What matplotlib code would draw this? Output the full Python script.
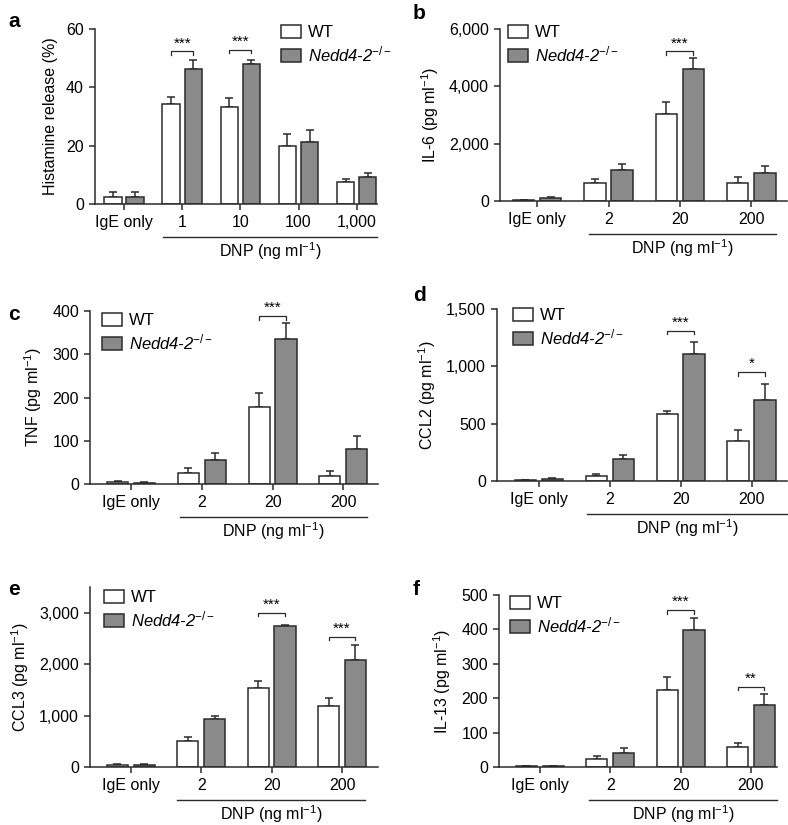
import matplotlib
matplotlib.use("Agg")
import matplotlib.pyplot as plt
from matplotlib.ticker import StrMethodFormatter
from matplotlib.transforms import offset_copy

plt.rcParams['font.family'] = ['Liberation Sans', 'DejaVu Sans']
plt.rcParams['mathtext.fontset'] = 'custom'
plt.rcParams['mathtext.rm'] = 'Liberation Sans'
plt.rcParams['mathtext.it'] = 'Liberation Sans:italic'

# ---- data ----
a_cats = ['IgE only', '1', '10', '100', '1,000']
a_wt = [2.3, 34.2, 33.1, 19.9, 7.7]
a_wt_err = [1.9, 2.6, 3.1, 4.1, 1.0]
a_ko = [2.4, 46.2, 48.0, 21.3, 9.4]
a_ko_err = [1.8, 3.3, 1.5, 4.1, 1.1]

dose_cats = ['IgE only', '2', '20', '200']

b_wt = [35, 628, 3035, 628]
b_wt_err = [15, 150, 410, 210]
b_ko = [93, 1093, 4593, 977]
b_ko_err = [35, 210, 395, 255]

c_wt = [4, 25, 177, 19]
c_wt_err = [3, 13, 33, 11]
c_ko = [2, 55, 336, 81]
c_ko_err = [2, 17, 36, 29]

d_wt = [6, 47, 587, 346]
d_wt_err = [3, 14, 21, 102]
d_ko = [20, 189, 1105, 703]
d_ko_err = [6, 35, 104, 140]

e_wt = [39, 506, 1539, 1182]
e_wt_err = [26, 72, 130, 156]
e_ko = [39, 942, 2747, 2078]
e_ko_err = [19, 52, 6, 292]

f_wt = [2, 24, 224, 58]
f_wt_err = [0.5, 8, 37, 12]
f_ko = [2, 42, 398, 180]
f_ko_err = [0.5, 12, 35, 32]

# significance: (group index, bracket height, stars)
a_sig = [(1, 52.3, '***'), (2, 52.9, '***')]
b_sig = [(2, 5220, '***')]
c_sig = [(2, 388, '***')]
d_sig = [(2, 1310, '***'), (3, 950, '*')]
e_sig = [(2, 3000, '***'), (3, 2530, '***')]
f_sig = [(2, 456, '***'), (3, 234, '**')]

W, H = 788, 825
fig = plt.figure(figsize=(W / 100, H / 100), dpi=100)

edge = '#2b2b2b'
grey = '#8a8a8a'
fs = 11.5
bw = 0.3
off = 0.19


def px_axes(l, r, t, b):
    return fig.add_axes([l / W, 1 - b / H, (r - l) / W, (b - t) / H])


def panel(ax, cats, wt, wt_err, ko, ko_err, ymax, ytop, ystep, ylabel,
          xlim, sig, leg_xy, letter_xy, letter, dnp_x):
    x = list(range(len(cats)))
    xw = [i - off for i in x]
    xk = [i + off for i in x]
    ax.bar(xw, wt, bw, color='white', edgecolor=edge, linewidth=1.1,
           label='WT', zorder=2)
    ax.bar(xk, ko, bw, color=grey, edgecolor=edge, linewidth=1.1,
           label='Nedd4-2$^{-/-}$', zorder=2)
    ax.errorbar(xw, wt, yerr=[[0] * len(wt), wt_err], fmt='none',
                ecolor=edge, elinewidth=1.1, capsize=2.6, capthick=1.1, zorder=1)
    ax.errorbar(xk, ko, yerr=[[0] * len(ko), ko_err], fmt='none',
                ecolor=edge, elinewidth=1.1, capsize=2.6, capthick=1.1, zorder=1)

    ax.set_xlim(*xlim)
    ax.set_ylim(0, ytop)
    ax.set_yticks([v * ystep for v in range(int(round(ymax / ystep)) + 1)])
    ax.yaxis.set_major_formatter(StrMethodFormatter('{x:,.0f}'))
    ax.set_xticks(x)
    ax.set_xticklabels(cats)
    ax.spines['top'].set_visible(False)
    ax.spines['right'].set_visible(False)
    for s in ('left', 'bottom'):
        ax.spines[s].set_linewidth(1.1)
        ax.spines[s].set_color(edge)
    ax.tick_params(length=4, width=1.1, color=edge, labelsize=fs, pad=4)
    ax.set_ylabel(ylabel, fontsize=fs, labelpad=6)

    # significance brackets
    dy = ytop * 0.02
    for g, h, st in sig:
        ax.plot([g - off, g - off, g + off, g + off], [h - dy, h, h, h - dy],
                color=edge, linewidth=0.9, clip_on=False)
        ax.text(g, h + dy * 0.3, st, ha='center', va='bottom', fontsize=11)

    # DNP line and label
    tl = offset_copy(ax.get_xaxis_transform(), fig=fig, y=-33 * 0.72, units='points')
    ax.plot(dnp_x, [0, 0], color=edge, linewidth=1.0, transform=tl, clip_on=False)
    tt = offset_copy(ax.get_xaxis_transform(), fig=fig, y=-47 * 0.72, units='points')
    ax.text((dnp_x[0] + dnp_x[1]) / 2, 0, 'DNP (ng ml$^{-1}$)', transform=tt,
            ha='center', va='center', fontsize=fs)

    leg = ax.legend(loc='upper left', bbox_to_anchor=(leg_xy[0] / W, 1 - leg_xy[1] / H),
                    bbox_transform=fig.transFigure, frameon=False, fontsize=12,
                    handlelength=1.2, handleheight=0.8, handletextpad=0.4,
                    labelspacing=0.25, borderpad=0, borderaxespad=0)
    leg.get_texts()[1].set_fontstyle('italic')

    fig.text(letter_xy[0] / W, 1 - letter_xy[1] / H, letter, fontsize=15,
             fontweight='bold', ha='left', va='top')


ax_a = px_axes(95, 377, 29, 204)
panel(ax_a, a_cats, a_wt, a_wt_err, a_ko, a_ko_err, 60, 60, 20,
      'Histamine release (%)', (-0.5, 4.35), a_sig, (281, 25), (8, 12), 'a',
      [0.67, 4.35])

ax_b = px_axes(500, 787, 29, 201)
panel(ax_b, dose_cats, b_wt, b_wt_err, b_ko, b_ko_err, 6000, 6000, 2000,
      'IL-6 (pg ml$^{-1}$)', (-0.52, 3.5), b_sig, (508, 25), (413, 4), 'b',
      [0.72, 3.34])

ax_c = px_axes(90, 378, 311, 484)
panel(ax_c, dose_cats, c_wt, c_wt_err, c_ko, c_ko_err, 400, 400, 100,
      'TNF (pg ml$^{-1}$)', (-0.58, 3.49), c_sig, (102, 313), (8, 305), 'c',
      [0.69, 3.34])

ax_d = px_axes(497, 787, 309, 481)
panel(ax_d, dose_cats, d_wt, d_wt_err, d_ko, d_ko_err, 1500, 1500, 500,
      'CCL2 (pg ml$^{-1}$)', (-0.59, 3.5), d_sig, (513, 308), (413, 286), 'd',
      [0.68, 3.5])

ax_e = px_axes(90, 378, 587, 767)
panel(ax_e, dose_cats, e_wt, e_wt_err, e_ko, e_ko_err, 3000, 3500, 1000,
      'CCL3 (pg ml$^{-1}$)', (-0.58, 3.51), e_sig, (104, 590), (8, 580), 'e',
      [0.65, 3.33])

ax_f = px_axes(499, 777, 595, 767)
panel(ax_f, dose_cats, f_wt, f_wt_err, f_ko, f_ko_err, 500, 500, 100,
      'IL-13 (pg ml$^{-1}$)', (-0.58, 3.37), f_sig, (510, 596), (413, 580), 'f',
      [0.7, 3.37])

plt.savefig('out.png', dpi=100)
